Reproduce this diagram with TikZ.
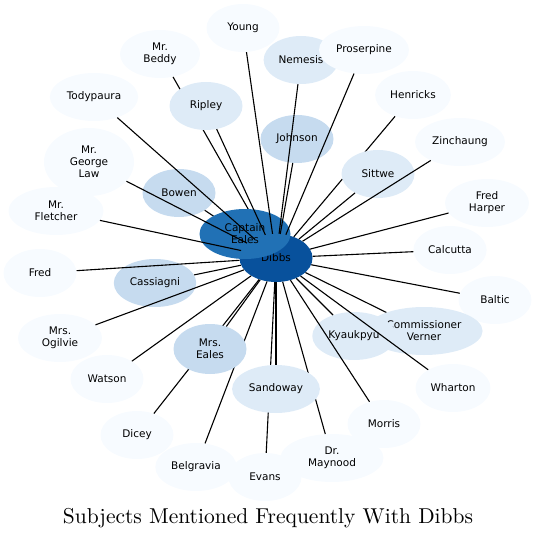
\documentclass[tikz,border=0pt]{standalone}
\usepackage{fontspec}
\newfontfamily\labelfont{DejaVu Sans}
\newfontfamily\titlefont{lmroman10-regular}[Extension=.otf]
\usetikzlibrary{shapes.geometric}
\definecolor{pale}{RGB}{247,251,255}
\definecolor{light}{RGB}{222,235,247}
\definecolor{mid}{RGB}{198,219,239}
\definecolor{ealesblue}{RGB}{33,113,181}
\definecolor{dibbsblue}{RGB}{8,81,156}
\begin{document}
\begin{tikzpicture}[x=1pt, y=-1pt,
    subj/.style={ellipse, fill=pale, inner sep=4pt, minimum width=73pt, minimum height=48pt,
        align=center, font=\labelfont\fontsize{10.5}{12}\selectfont},
    link/.style={line width=1.1pt}]
        \useasboundingbox (0,0) rectangle (536,537);

        % nodes lying under the edges
        \node[subj, fill=dibbsblue] (dibbs) at (276,258) {Dibbs};
        \node[subj] (young) at (243,28) {Young};
        \node[subj, minimum width=80pt] (beddy) at (160,54) {Mr.\\Beddy};
        \node[subj, fill=light] (nemesis) at (301,60) {Nemesis};
        \node[subj] (proserpine) at (364,50) {Proserpine};
        \node[subj] (todypaura) at (94,97) {Todypaura};
        \node[subj] (henricks) at (413,95) {Henricks};
        \node[subj, fill=mid] (johnson) at (297,139) {Johnson};
        \node[subj] (zinchaung) at (460,142) {Zinchaung};
        \node[subj, minimum width=90pt, minimum height=68pt] (law) at (89,162) {Mr.\\George\\Law};
        \node[subj, fill=mid] (bowen) at (179,193) {Bowen};
        \node[subj, minimum width=84pt] (harper) at (487,203) {Fred\\Harper};
        \node[subj, minimum width=95pt] (fletcher) at (56,211) {Mr.\\Fletcher};
        \node[subj] (calcutta) at (450,250) {Calcutta};
        \node[subj] (fred) at (40,273) {Fred};
        \node[subj, fill=mid] (cassiagni) at (155,283) {Cassiagni};
        \node[subj] (baltic) at (495,300) {Baltic};
        \node[subj, fill=light] (verner) at (424,331) {Commissioner\\Verner};
        \node[subj, fill=light] (kyaukpyu) at (354,336) {Kyaukpyu};
        \node[subj, minimum width=84pt] (ogilvie) at (60,338) {Mrs.\\Ogilvie};
        \node[subj] (watson) at (107,379) {Watson};
        \node[subj] (wharton) at (453,388) {Wharton};
        \node[subj] (morris) at (384,424) {Morris};
        \node[subj] (dicey) at (137,435) {Dicey};
        \node[subj] (belgravia) at (196,467) {Belgravia};
        \node[subj] (evans) at (265,477) {Evans};
        \node[subj, minimum width=103pt] (maynood) at (332,458) {Dr.\\Maynood};

        % edges hidden by the nodes above them
        \draw[link] (bowen) -- (dibbs);
        \draw[link] (henricks) -- (dibbs);
        \draw[link] (beddy) -- (dibbs);
        \draw[link] (dicey) -- (dibbs);
        \draw[link] (belgravia) -- (dibbs);
        \draw[link] (evans) -- (dibbs);
        \draw[link] (maynood) -- (dibbs);

        \node[subj, fill=ealesblue, minimum width=91pt, minimum height=50pt] (eales) at (245,234) {Captain\\Eales};
        \node[subj, fill=light] (ripley) at (206,106) {Ripley};
        \node[subj, fill=light] (sittwe) at (378,174) {Sittwe};
        \node[subj, fill=mid, minimum height=50pt] (mrseales) at (210,349) {Mrs.\\Eales};
        \node[subj, fill=light] (sandoway) at (276,389) {Sandoway};

        % edges drawn over the nodes
        \draw[link] (young) -- (dibbs);
        \draw[link] (nemesis) -- (dibbs);
        \draw[link] (proserpine) -- (dibbs);
        \draw[link] (todypaura) -- (dibbs);
        \draw[link] (ripley) -- (dibbs);
        \draw[link] (johnson) -- (dibbs);
        \draw[link] (zinchaung) -- (dibbs);
        \draw[link] (law) -- (dibbs);
        \draw[link] (sittwe) -- (dibbs);
        \draw[link] (harper) -- (dibbs);
        \draw[link] (fletcher) -- (dibbs);
        \draw[link] (calcutta) -- (dibbs);
        \draw[link] (fred) -- (dibbs);
        \draw[link] (cassiagni) -- (dibbs);
        \draw[link] (baltic) -- (dibbs);
        \draw[link] (kyaukpyu) -- (dibbs);
        \draw[link] (verner) -- (dibbs);
        \draw[link] (ogilvie) -- (dibbs);
        \draw[link] (mrseales) -- (dibbs);
        \draw[link] (watson) -- (dibbs);
        \draw[link] (sandoway) -- (dibbs);
        \draw[link] (wharton) -- (dibbs);
        \draw[link] (morris) -- (dibbs);

        \node[anchor=base, font=\titlefont\fontsize{21.5}{26}\selectfont] (title) at (268,523) {Subjects Mentioned Frequently With Dibbs};
\end{tikzpicture}
\end{document}
